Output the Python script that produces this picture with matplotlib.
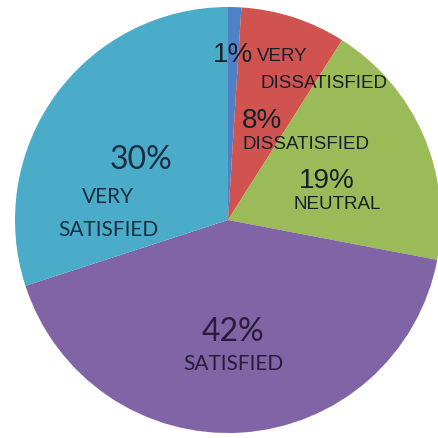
import matplotlib
matplotlib.use("Agg")
from matplotlib import pyplot as plt

# data
categories = ['VERY\nDISSATISFIED', 'DISSATISFIED', 'NEUTRAL', 'SATISFIED', 'VERY\nSATISFIED']
values = [1, 8, 19, 42, 30]
pct_labels = ['1%', '8%', '19%', '42%', '30%']
colors = ['#4f81c9', '#d0534f', '#9bbb59', '#8064a6', '#4aacc8']

W, H = 438, 439
CX, CY, R = 228, 221, 213  # pie centre / radius in pixels


def px(x, y):
    # pixel position -> data coords (pie radius = 1)
    return (x - CX) / R, (CY - y) / R


fig = plt.figure(figsize=(W / 100, H / 100), dpi=100)
ax = fig.add_axes([0, 0, 1, 1])
ax.pie(values, colors=colors, startangle=90, counterclock=False,
       wedgeprops={'linewidth': 0})
x0, y0 = px(0, H)
x1, y1 = px(W, 0)
ax.set_xlim(x0, x1)
ax.set_ylim(y0, y1)
ax.set_aspect('auto')
ax.axis('off')

pct_font = 'Liberation Sans'
lab_font = 'Liberation Sans'
dark = '#15202b'
lab_size = 13.5

# right-hand labels (small slices)
ax.text(*px(233, 55), pct_labels[0], family=pct_font, fontsize=20, color=dark, ha='center', va='center')
ax.text(*px(257, 57), 'VERY', family=lab_font, fontsize=lab_size, color=dark, ha='left', va='center')
ax.text(*px(260, 84), 'DISSATISFIED', family=lab_font, fontsize=lab_size, color=dark, ha='left', va='center')
ax.text(*px(262, 121), pct_labels[1], family=pct_font, fontsize=20, color=dark, ha='center', va='center')
ax.text(*px(242, 145), categories[1], family=lab_font, fontsize=lab_size, color=dark, ha='left', va='center')
ax.text(*px(327, 181), pct_labels[2], family=pct_font, fontsize=20, color=dark, ha='center', va='center')
ax.text(*px(337, 205), categories[2], family=lab_font, fontsize=lab_size, color=dark, ha='center', va='center')

# big slices
ax.text(*px(141, 160), pct_labels[4], family='Lato', fontsize=23, color='#1b2f40', ha='center', va='center')
ax.text(*px(108, 197), 'VERY', family='Lato', fontsize=15, color='#1b2f40', ha='center', va='center')
ax.text(*px(108, 230), 'SATISFIED', family='Lato', fontsize=15, color='#1b2f40', ha='center', va='center')
ax.text(*px(233, 332), pct_labels[3], family='Lato', fontsize=23, color='#2a1b3d', ha='center', va='center')
ax.text(*px(233, 364), categories[3], family='Lato', fontsize=15, color='#2a1b3d', ha='center', va='center')

fig.savefig('out.png', dpi=100)
